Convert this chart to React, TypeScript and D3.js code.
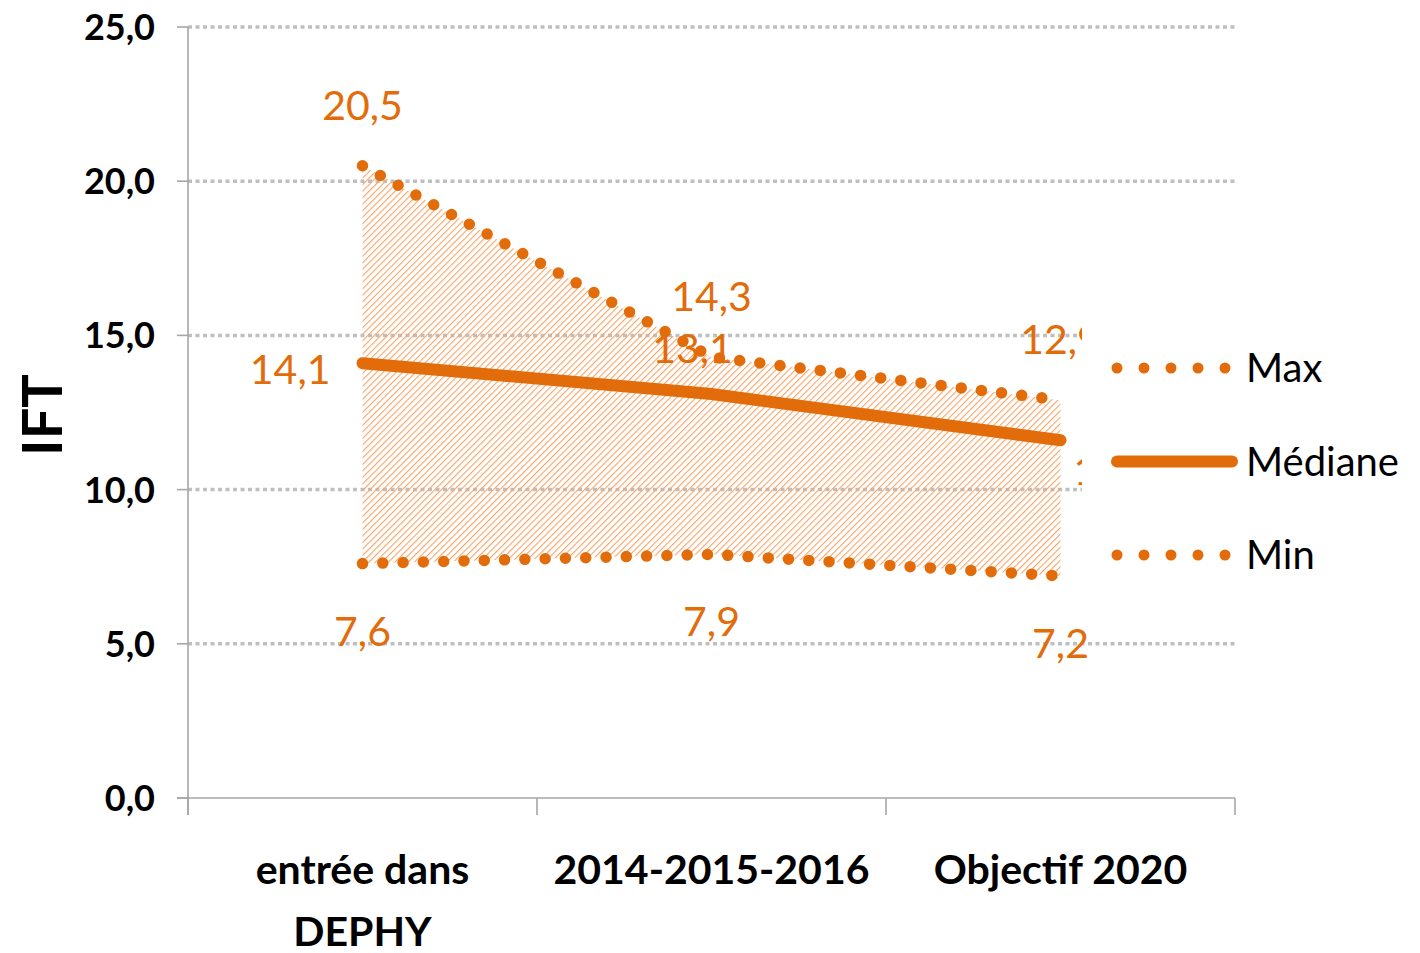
import React from "react";
import * as d3 from "d3";

const categories = ["entrée dans\nDEPHY", "2014-2015-2016", "Objectif 2020"];
const maxValues = [20.5, 14.3, 12.9];
const medianValues = [14.1, 13.1, 11.6];
const minValues = [7.6, 7.9, 7.2];
const yTicks = [0, 5, 10, 15, 20, 25];
const legendItems = ["Max", "Médiane", "Min"];

const ORANGE = "#E36C0A";
const GRID = "#BFBFBF";
const AXIS = "#A6A6A6";
const FONT = "Lato, 'Open Sans', sans-serif";

const fmt = (v: number) => v.toFixed(1).replace(".", ",");

// label offsets (px) for median labels, per point
const medianLabelOffsets = [
  { dx: -32, dy: 21, anchor: "end" },
  { dx: -19, dy: -31, anchor: "middle" },
  { dx: 13, dy: 45, anchor: "start" },
];

export default function App() {
  const W = 1420;
  const H = 953;
  const left = 188;
  const right = 1235;
  const top = 27;
  const bottom = 798;

  const y = d3.scaleLinear().domain([0, 25]).range([bottom, top]);
  const xBand = d3.scaleBand().domain(categories).range([left, right]).padding(0);
  const xc = (i: number) => (xBand(categories[i]) as number) + xBand.bandwidth() / 2;

  const line = d3
    .line<number>()
    .x((_, i) => xc(i))
    .y((d) => y(d));

  const area = d3
    .area<number>()
    .x((_, i) => xc(i))
    .y0((_, i) => y(minValues[i]))
    .y1((d) => y(d));

  const bandEdges = categories.map((c) => xBand(c) as number).concat([right]);

  return (
    <svg width={W} height={H} style={{ display: "block", position: "absolute", left: 0, top: 0 }}>
      <defs>
        <pattern id="hatch" patternUnits="userSpaceOnUse" width="4.6" height="4.6" patternTransform="rotate(45)">
          <line x1="0" y1="0" x2="0" y2="4.6" stroke="#F5A76C" strokeWidth="2.3" />
        </pattern>
      </defs>
      <rect x={0} y={0} width={W} height={H} fill="#fff" />

      {/* gridlines */}
      {yTicks.filter((t) => t > 0).map((t) => (
        <line key={t} x1={left} x2={right} y1={y(t)} y2={y(t)} stroke={GRID} strokeWidth={3.5} strokeDasharray="4 3.5" />
      ))}

      {/* axes */}
      <line x1={left} x2={left} y1={top} y2={bottom + 17} stroke={AXIS} strokeWidth={1.6} />
      <line x1={left - 11} x2={right} y1={bottom} y2={bottom} stroke={AXIS} strokeWidth={1.6} />
      {yTicks.map((t) => (
        <line key={t} x1={left - 11} x2={left} y1={y(t)} y2={y(t)} stroke={AXIS} strokeWidth={1.6} />
      ))}
      {bandEdges.map((e, i) => (
        <line key={i} x1={e} x2={e} y1={bottom} y2={bottom + 17} stroke={AXIS} strokeWidth={1.6} />
      ))}

      {/* y tick labels */}
      {yTicks.map((t) => (
        <text key={t} x={155} y={y(t)} dy="0.36em" textAnchor="end" fontFamily={FONT} fontWeight={700} fontSize={36} fill="#000">
          {fmt(t)}
        </text>
      ))}

      {/* y axis title */}
      <text transform={`translate(62,415) rotate(-90)`} textAnchor="middle" fontFamily={FONT} fontWeight={700} fontSize={56} fill="#000">
        IFT
      </text>

      {/* category labels */}
      {categories.map((c, i) => (
        <text key={c} x={xc(i)} y={884} textAnchor="middle" fontFamily={FONT} fontWeight={700} fontSize={41} fill="#000">
          {c.split("\n").map((l, j) => (
            <tspan key={j} x={xc(i)} dy={j === 0 ? 0 : 62}>
              {l}
            </tspan>
          ))}
        </text>
      ))}

      {/* hatched range */}
      <path d={area(maxValues) as string} fill="url(#hatch)" />

      {/* lines */}
      <path d={line(maxValues) as string} fill="none" stroke={ORANGE} strokeWidth={11.5} strokeLinecap="round" strokeDasharray="0 20.3" />
      <path d={line(minValues) as string} fill="none" stroke={ORANGE} strokeWidth={11.5} strokeLinecap="round" strokeDasharray="0 20.3" />
      <path d={line(medianValues) as string} fill="none" stroke={ORANGE} strokeWidth={12} strokeLinecap="round" />

      {/* data labels */}
      {maxValues.map((v, i) => (
        <text key={"mx" + i} x={xc(i)} y={y(v) - 46} textAnchor="middle" fontFamily={FONT} fontSize={41} fill={ORANGE}>
          {fmt(v)}
        </text>
      ))}
      {minValues.map((v, i) => (
        <text key={"mn" + i} x={xc(i)} y={y(v) + 82} textAnchor="middle" fontFamily={FONT} fontSize={41} fill={ORANGE}>
          {fmt(v)}
        </text>
      ))}
      {medianValues.map((v, i) => (
        <text
          key={"md" + i}
          x={xc(i) + medianLabelOffsets[i].dx}
          y={y(v) + medianLabelOffsets[i].dy}
          textAnchor={medianLabelOffsets[i].anchor as any}
          fontFamily={FONT}
          fontSize={41}
          fill={ORANGE}
        >
          {fmt(v)}
        </text>
      ))}

      {/* legend box (covers plot) */}
      <rect x={1082} y={318} width={W - 1082} height={282} fill="#fff" />
      {legendItems.map((name, i) => {
        const ly = 368 + i * 93.5;
        return (
          <g key={name}>
            {name === "Médiane" ? (
              <line x1={1117} x2={1232} y1={ly} y2={ly} stroke={ORANGE} strokeWidth={12} strokeLinecap="round" />
            ) : (
              <line x1={1117} x2={1226} y1={ly} y2={ly} stroke={ORANGE} strokeWidth={11} strokeLinecap="round" strokeDasharray="0 27" />
            )}
            <text x={1246} y={ly} dy="0.36em" fontFamily={FONT} fontSize={40} fill="#000">
              {name}
            </text>
          </g>
        );
      })}
    </svg>
  );
}
